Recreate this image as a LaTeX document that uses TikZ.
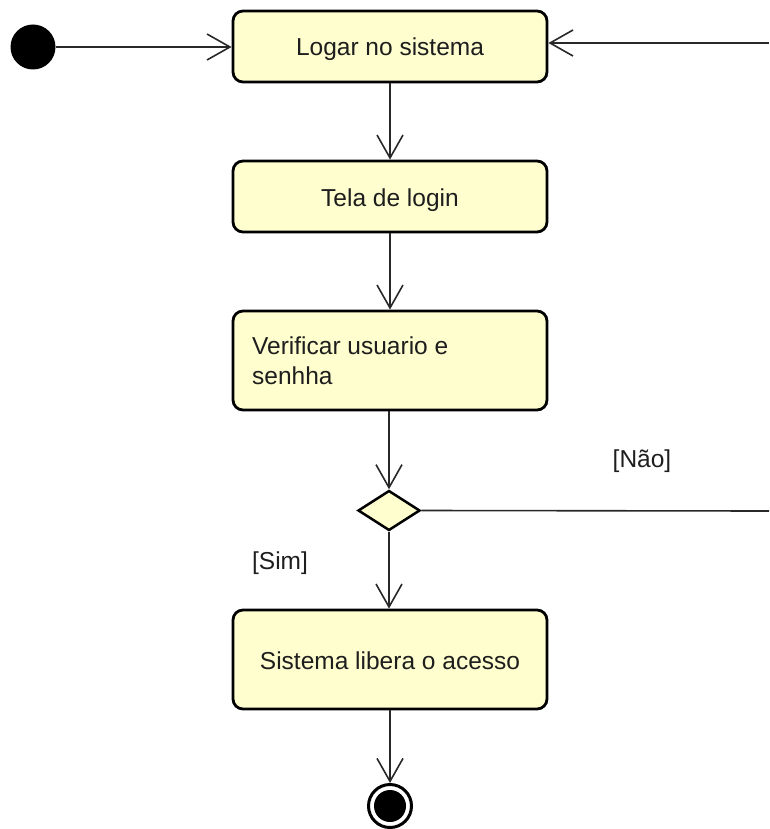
\documentclass[tikz,border=0pt]{standalone}
\usepackage{fontspec}
\setmainfont{Liberation Sans}
\usetikzlibrary{arrows.meta,shapes.geometric}
\definecolor{actfill}{RGB}{254,254,206}
\definecolor{edge}{RGB}{40,40,40}
\definecolor{ink}{RGB}{30,30,30}
\begin{document}
\begin{tikzpicture}[x=1pt,y=-1pt,
  label font/.style={font=\fontsize{24.5}{30}\selectfont,text=ink},
  action/.style={draw=black,line width=2.8pt,fill=actfill,rounded corners=10pt,
    minimum width=314pt,inner sep=0pt,text height=22pt,text depth=3pt,label font},
  flow/.style={draw=edge,line width=1.6pt,
    -{Straight Barb[length=23pt,width=26pt,line width=1.6pt]}},
  guard/.style={label font,inner sep=0pt}]
  \useasboundingbox (0,0) rectangle (769,829);

  % start and end nodes
  \node[circle,fill=black,minimum size=45pt,inner sep=0pt] (start) at (33,47) {};
  \node[circle,draw=black,line width=3pt,fill=white,minimum size=43pt,inner sep=0pt] (stop) at (390,806) {};
  \fill[black] (stop.center) circle (16pt);

  % activities
  \node[action,minimum height=71pt] (login) at (390,46.5) {Logar no sistema};
  \node[action,minimum height=71pt] (tela) at (390,196.5) {Tela de login};
  \node[action,minimum height=99pt] (verif) at (390,360.5) {};
  \node[anchor=base west,label font,align=left,inner sep=0pt]
    (veriftxt) at (252,384) {Verificar usuario e\\senhha};
  \node[action,minimum height=99pt] (libera) at (390,659.5) {Sistema libera o acesso};

  % decision
  \node[diamond,draw=black,line width=2.5pt,fill=actfill,inner sep=0pt,
    minimum width=62pt,minimum height=40pt,aspect=1.55] (dec) at (389,510.5) {};

  % loose ends at the right margin
  \coordinate (back) at (769,43);
  \coordinate (out) at (769,511);

  % flows
  \draw[flow] (start) -- (start -| login.west);
  \draw[flow] (back) -- (back -| login.east);
  \draw[flow] (login) -- (tela);
  \draw[flow] (tela) -- (verif);
  \draw[flow] (verif.south -| dec.north) -- (dec.north);
  \draw[flow] (dec.south) -- (libera.north -| dec.south);
  \draw[flow] (libera) -- (stop);
  \draw[draw=edge,line width=1.6pt] (dec.east) -- (out);

  % guards
  \node[guard] (nao) at (642,461) {[Não]};
  \node[guard] (sim) at (280,563) {[Sim]};
\end{tikzpicture}
\end{document}
